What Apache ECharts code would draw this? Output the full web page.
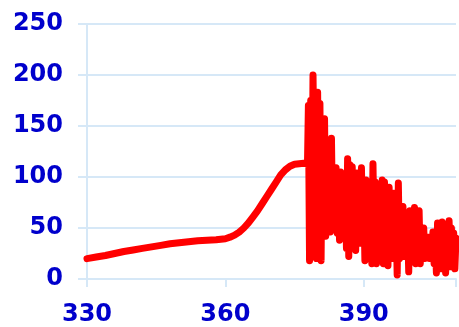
<!DOCTYPE html>
<html>
<head>
<meta charset="utf-8">
<script src="https://cdn.jsdelivr.net/npm/echarts@6/dist/echarts.min.js"></script>
<style>
  html, body { margin: 0; padding: 0; background: #fff; }
  #main { width: 459px; height: 327px; }
</style>
</head>
<body>
<div id="main"></div>
<script>
// smooth rise part
var smoothX = [330, 332, 334, 336, 338, 340, 342, 344, 346, 348, 350, 352, 354, 356, 358, 360,
    361, 362, 363, 364, 365, 366, 367, 368, 369, 370, 371, 372, 373, 374, 375, 376, 377, 377.8];
var smoothY = [20, 21.5, 23, 25, 27, 28.5, 30, 31.5, 33, 34.5, 35.5, 36.5, 37.5, 38, 38.5, 39.5,
    41, 43, 46, 50, 55, 61, 67, 74, 81, 88, 95, 102, 107, 110.5, 112.5, 113, 113.5, 113];

// noisy part, one value every 0.25 from 378 to 410
var noiseStart = 378;
var noiseStep = 0.25;
var noiseY = [
    170, 18, 175, 60, 200, 110, 165, 20, 183, 50, 172, 18, 150, 60, 157, 42,
    120, 70, 90, 46, 138, 50, 95, 60, 109, 45, 100, 38, 105, 55, 94, 60,
    94, 30, 118, 22, 112, 55, 110, 40, 95, 28, 104, 50, 100, 35, 109, 45,
    85, 18, 97, 40, 80, 30, 70, 15, 113, 35, 95, 15, 90, 40, 70, 25,
    97, 15, 95, 40, 70, 13, 90, 35, 75, 20, 84, 30, 60, 4, 94, 20,
    60, 30, 71, 22, 50, 35, 53, 7, 67, 25, 45, 20, 70, 15, 55, 30,
    67, 15, 45, 25, 50, 20, 35, 25, 41, 20, 38, 25, 46, 15, 40, 6,
    55, 20, 50, 10, 56, 25, 48, 6, 45, 20, 57, 12, 50, 25, 45, 10,
    40
];

var yTicks = [0, 50, 100, 150, 200, 250];
var xTicks = [330, 360, 390];

var lineData = [];
for (var i = 0; i < smoothX.length; i++) {
    lineData.push([smoothX[i], smoothY[i]]);
}
for (var j = 0; j < noiseY.length; j++) {
    lineData.push([noiseStart + j * noiseStep, noiseY[j]]);
}

var gridColor = '#D6E8F7';
var labelStyle = {
    color: '#0000CC',
    fontFamily: 'DejaVu Sans',
    fontWeight: 'bold',
    fontSize: 24
};

var chart = echarts.init(document.getElementById('main'));
var option = {
    animation: false,
    grid: {
        left: 87,
        right: -1,
        top: 24,
        bottom: 48
    },
    xAxis: {
        type: 'value',
        min: 330,
        max: 410,
        interval: 30,
        axisLine: { lineStyle: { color: gridColor, width: 2 } },
        axisTick: { show: true, length: 8, lineStyle: { color: gridColor, width: 2 } },
        splitLine: { show: false },
        axisLabel: Object.assign({
            margin: 24,
            formatter: function (v) {
                return xTicks.indexOf(v) >= 0 ? String(v) : '';
            }
        }, labelStyle)
    },
    yAxis: {
        type: 'value',
        min: yTicks[0],
        max: yTicks[yTicks.length - 1],
        interval: 50,
        axisLine: { show: true, lineStyle: { color: gridColor, width: 2 } },
        axisTick: { show: true, length: 9, lineStyle: { color: gridColor, width: 2 } },
        splitLine: { lineStyle: { color: gridColor, width: 2 } },
        axisLabel: Object.assign({ margin: 24 }, labelStyle)
    },
    series: [
        {
            type: 'line',
            data: lineData,
            showSymbol: false,
            symbol: 'none',
            clip: true,
            lineStyle: {
                color: '#FF0000',
                width: 7,
                cap: 'round',
                join: 'round'
            }
        }
    ]
};
chart.setOption(option);
</script>
</body>
</html>
